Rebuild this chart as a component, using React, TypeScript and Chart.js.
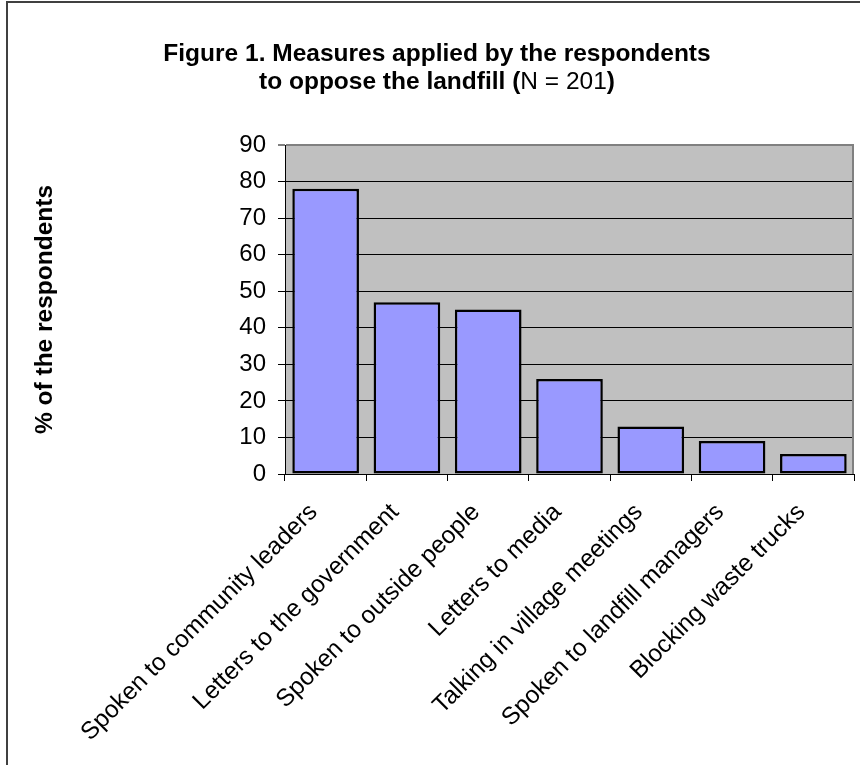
import React, { useEffect, useRef } from "react";
import { Chart, registerables } from "chart.js";

Chart.register(...registerables);

// Survey results: share of respondents using each measure
const categories = [
  "Spoken to community leaders",
  "Letters to the government",
  "Spoken to outside people",
  "Letters to media",
  "Talking in village meetings",
  "Spoken to landfill managers",
  "Blocking waste trucks",
];
const percentages = [78, 47, 45, 26, 13, 9, 5.5];

const yMin = 0;
const yMax = 90;
const yStep = 10;

const titleLine1 = "Figure 1. Measures applied by the respondents";
const titleLine2 = [
  { text: "to oppose the landfill (", bold: true },
  { text: "N = 201", bold: false },
  { text: ")", bold: true },
];
const yAxisTitle = "% of the respondents";

const FONT = "'Liberation Sans', Arial, Helvetica, sans-serif";

const W = 860;
const H = 765;

// Grey plot background and its right-hand edge
const plotBackground = {
  id: "plotBackground",
  beforeDraw(chart: any) {
    const { ctx, chartArea } = chart;
    ctx.save();
    ctx.fillStyle = "#c0c0c0";
    ctx.fillRect(chartArea.left, chartArea.top, chartArea.right - chartArea.left, chartArea.bottom - chartArea.top);
    ctx.restore();
  },
  afterDatasetsDraw(chart: any) {
    const { ctx, chartArea } = chart;
    ctx.save();
    ctx.strokeStyle = "#808080";
    ctx.lineWidth = 2;
    ctx.beginPath();
    ctx.moveTo(chartArea.right - 1, chartArea.top);
    ctx.lineTo(chartArea.right - 1, chartArea.bottom);
    ctx.stroke();
    ctx.restore();
  },
};

// Frame around the figure and the two-line heading with mixed weights
const figureFrame = {
  id: "figureFrame",
  afterDraw(chart: any) {
    const { ctx } = chart;
    ctx.save();
    ctx.strokeStyle = "#404040";
    ctx.lineWidth = 2;
    ctx.strokeRect(7, 2, W + 40, H + 40);

    const cx = 437;
    const size = 24.5;
    ctx.fillStyle = "#000";
    ctx.textBaseline = "alphabetic";
    ctx.textAlign = "left";
    ctx.font = `bold ${size}px ${FONT}`;
    const w1 = ctx.measureText(titleLine1).width;
    ctx.fillText(titleLine1, cx - w1 / 2, 61);

    const fontFor = (bold: boolean) => `${bold ? "bold " : ""}${size}px ${FONT}`;
    let total = 0;
    for (const seg of titleLine2) {
      ctx.font = fontFor(seg.bold);
      total += ctx.measureText(seg.text).width;
    }
    let x = cx - total / 2;
    for (const seg of titleLine2) {
      ctx.font = fontFor(seg.bold);
      ctx.fillText(seg.text, x, 89);
      x += ctx.measureText(seg.text).width;
    }
    ctx.restore();
  },
};

export default function App() {
  const canvasRef = useRef<HTMLCanvasElement | null>(null);

  useEffect(() => {
    const canvas = canvasRef.current;
    if (!canvas) return;
    const chart = new Chart(canvas, {
      type: "bar",
      data: {
        labels: categories,
        datasets: [
          {
            data: percentages,
            backgroundColor: "#9999ff",
            borderColor: "#000000",
            borderWidth: 2.5,
            borderSkipped: false,
            barPercentage: 0.82,
            categoryPercentage: 1,
          },
        ],
      },
      options: {
        responsive: false,
        animation: false,
        devicePixelRatio: 1,
        layout: { padding: { top: 145, right: 6, bottom: 0, left: 0 } },
        plugins: {
          legend: { display: false },
          tooltip: { enabled: false },
          title: { display: false },
        },
        scales: {
          x: {
            grid: {
              offset: true,
              drawOnChartArea: false,
              drawTicks: true,
              tickLength: 7,
              color: "#000",
              tickColor: "#000",
            },
            border: { color: "#000", width: 1 },
            ticks: {
              autoSkip: false,
              minRotation: 45,
              maxRotation: 45,
              padding: 17,
              labelOffset: -12,
              color: "#000",
              font: { family: FONT, size: 24.5 },
            },
            afterFit(scale: any) {
              scale.height = 291;
              scale.paddingLeft = 0;
              scale.paddingRight = 0;
            },
          },
          y: {
            min: yMin,
            max: yMax,
            ticks: {
              stepSize: yStep,
              padding: 12,
              color: "#000",
              font: { family: FONT, size: 24 },
            },
            grid: {
              color: (c: any) => (c.tick && c.tick.value === yMax ? "#808080" : "#000"),
              lineWidth: (c: any) => (c.tick && c.tick.value === yMax ? 2 : 1),
              tickLength: 7,
              tickColor: "#000",
              tickWidth: 1,
            },
            border: { color: "#000", width: 1 },
            title: {
              display: true,
              text: yAxisTitle,
              color: "#000",
              font: { family: FONT, size: 24.5, weight: "bold" },
              padding: { top: 30.3, bottom: 0 },
            },
            afterFit(scale: any) {
              scale.width = 285;
            },
          },
        },
      },
      plugins: [plotBackground, figureFrame],
    });
    return () => chart.destroy();
  }, []);

  return (
    <div style={{ position: "fixed", left: 0, top: 0, width: W, height: H, overflow: "hidden", background: "#fff" }}>
      <canvas ref={canvasRef} width={W} height={H} style={{ display: "block", width: W, height: H }} />
    </div>
  );
}
